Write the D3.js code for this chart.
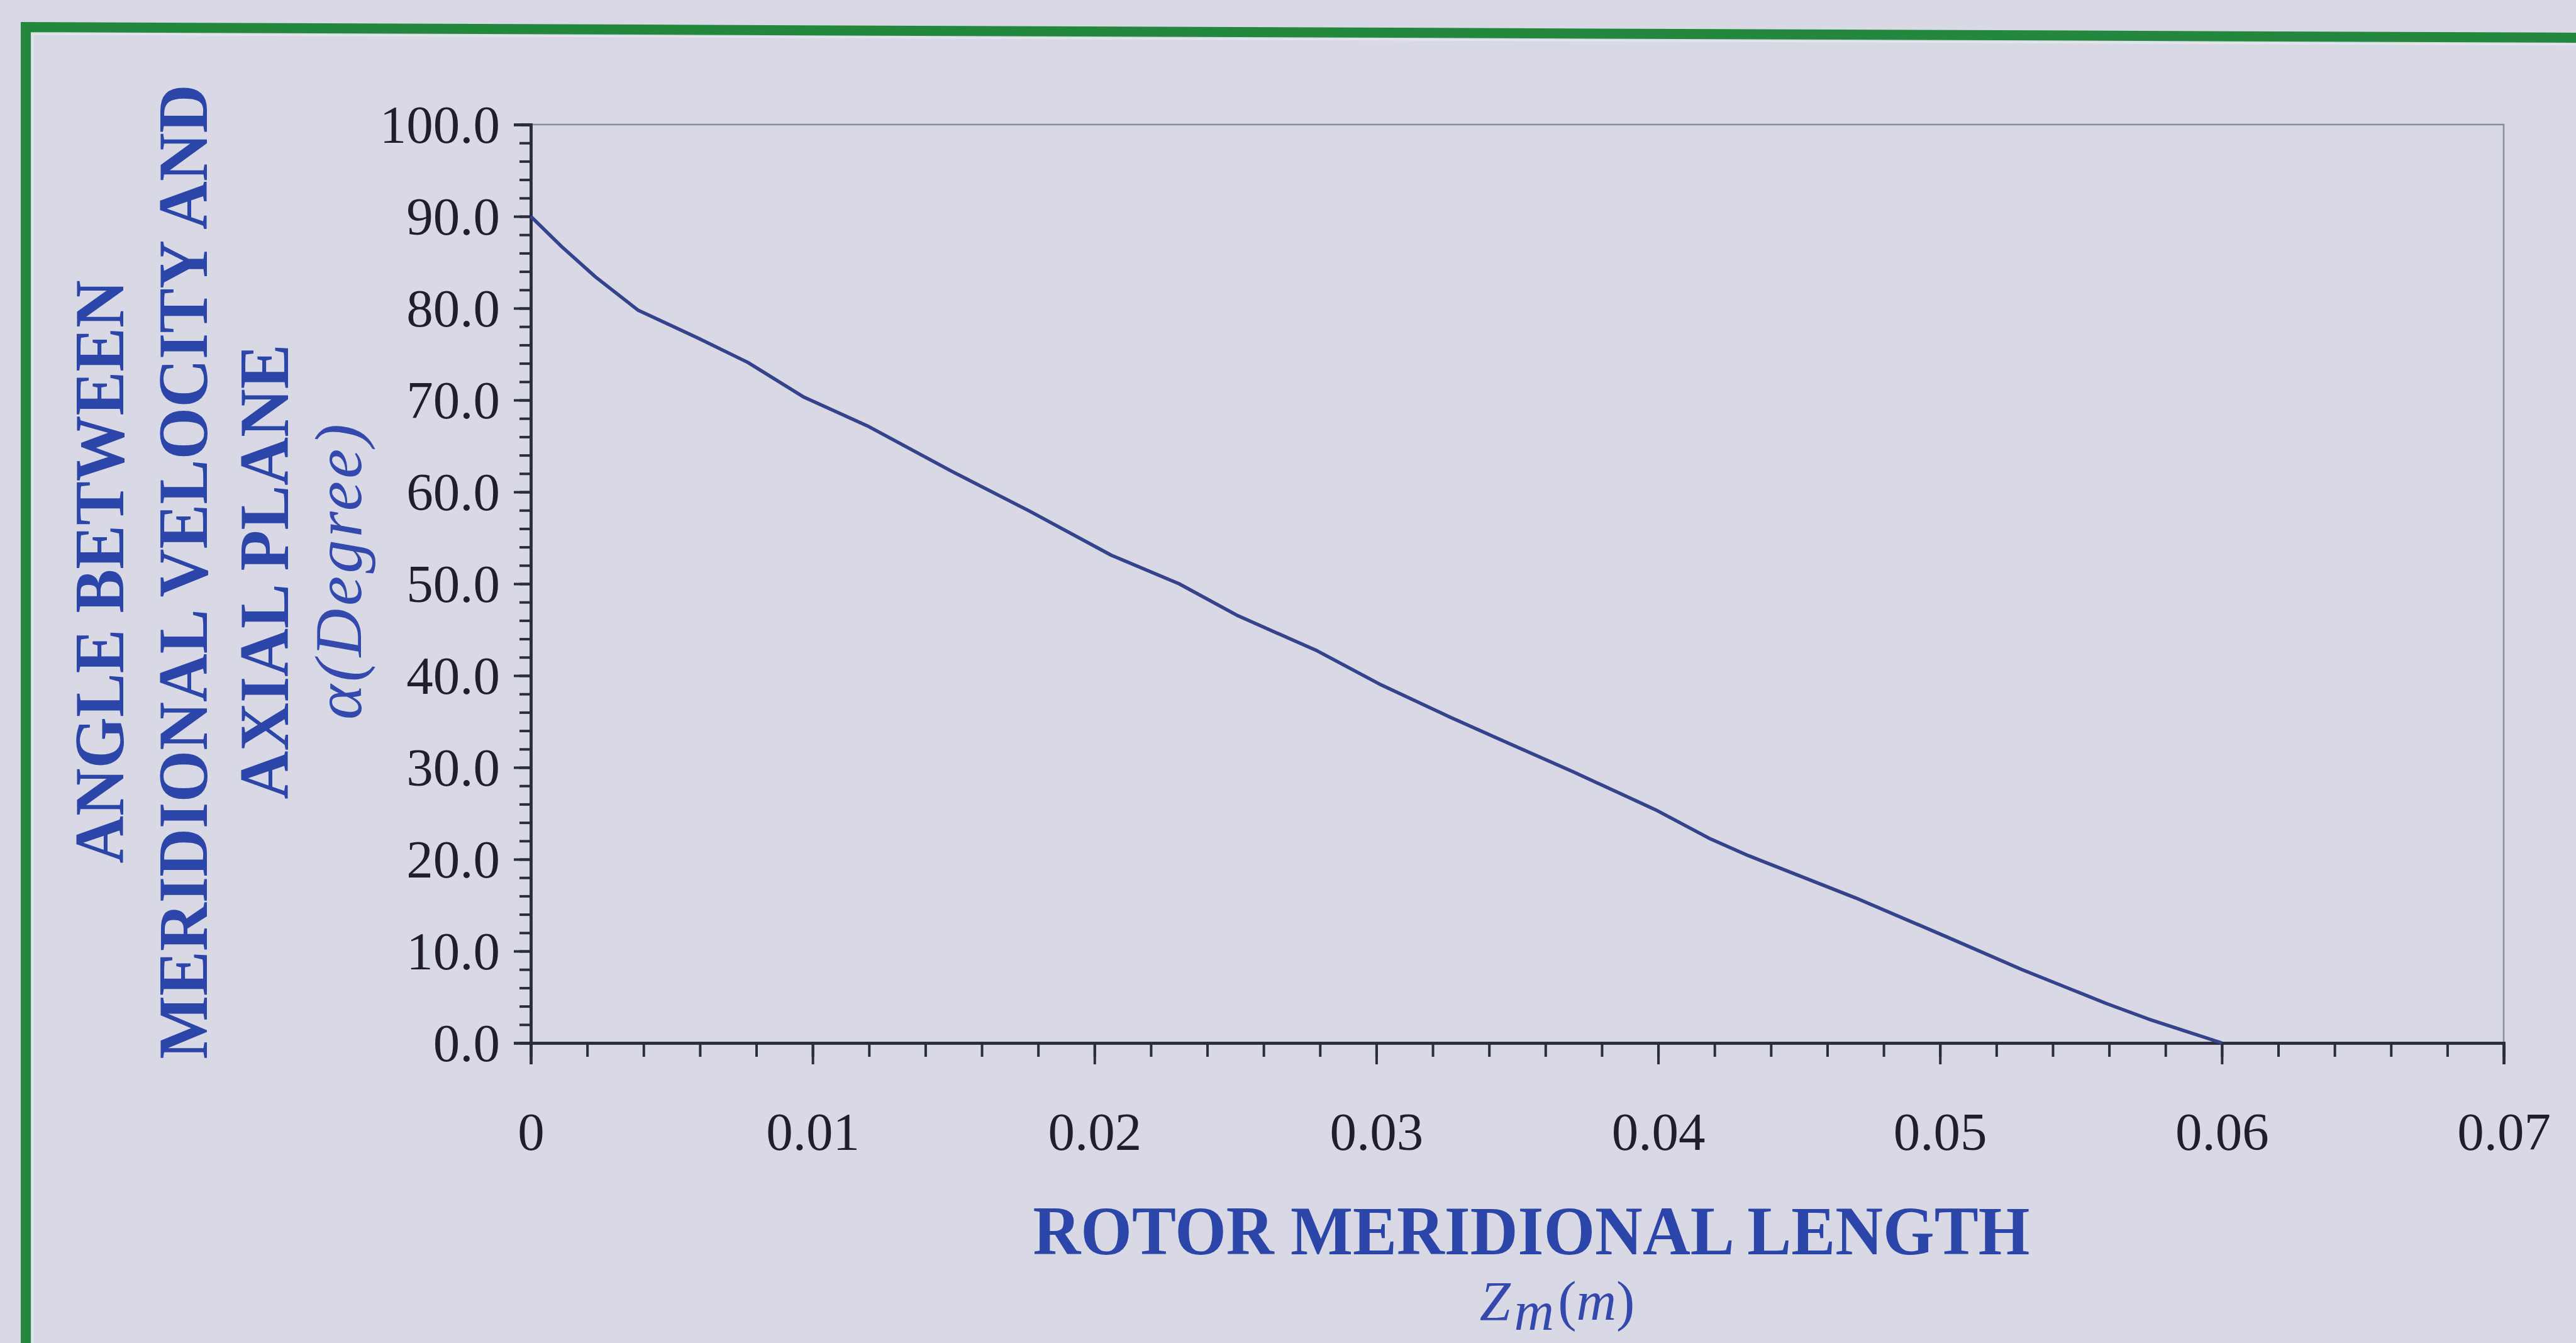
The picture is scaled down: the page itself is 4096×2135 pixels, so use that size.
<!DOCTYPE html>
<html>
<head>
<meta charset="utf-8">
<script src="https://cdn.jsdelivr.net/npm/d3@7/dist/d3.min.js"></script>
<style>
  html, body { margin: 0; padding: 0; background: #d8d9e4; }
  svg { display: block; }
</style>
</head>
<body>
<script>
// Meridional length along the rotor (m) and flow angle alpha (degrees)
const zm = [0, 0.0011, 0.0023, 0.0038, 0.0059, 0.0077, 0.0097, 0.0120, 0.0149, 0.0177,
            0.0206, 0.0230, 0.0251, 0.0279, 0.0301, 0.0326, 0.0345, 0.0370, 0.0399, 0.0418,
            0.0432, 0.0470, 0.0502, 0.0529, 0.0559, 0.0574, 0.0586, 0.0600];
const alpha = [90.0, 86.7, 83.4, 79.8, 76.8, 74.1, 70.3, 67.1, 62.3, 57.9,
               53.1, 50.0, 46.5, 42.7, 39.1, 35.5, 32.9, 29.5, 25.4, 22.3,
               20.4, 15.8, 11.6, 8.0, 4.3, 2.6, 1.4, 0.0];

const yMajorTicks = [0, 10, 20, 30, 40, 50, 60, 70, 80, 90, 100];
const yMinorTicks = d3.range(0, 100.001, 2);
const xMajorTicks = [0, 0.01, 0.02, 0.03, 0.04, 0.05, 0.06, 0.07];
const xMinorTicks = d3.range(0, 0.07001, 0.002);

const yTitleLines = ["ANGLE BETWEEN", "MERIDIONAL VELOCITY AND", "AXIAL PLANE"];
const yUnitLabel = "\u03B1(Degree)";
const xTitle = "ROTOR MERIDIONAL LENGTH";

const W = 4096, H = 2135;
const SERIF = "'Liberation Serif', 'Times New Roman', Times, serif";
const BLUE = "#2b45a8";
const INK = "#1e1f2a";

const svg = d3.select("body").append("svg")
  .attr("width", W).attr("height", H)
  .attr("viewBox", `0 0 ${W} ${H}`);

svg.append("rect").attr("width", W).attr("height", H).attr("fill", "#d8d9e4");

// green frame around the figure
svg.append("path")
  .attr("d", `M41,${H + 20} L41,43 L${W + 20},60`)
  .attr("fill", "none")
  .attr("stroke", "#23883d")
  .attr("stroke-width", 16);
svg.append("path")
  .attr("d", `M52,${H + 20} L52,54 L${W + 20},71`)
  .attr("fill", "none")
  .attr("stroke", "#e6eef0")
  .attr("stroke-width", 3)
  .attr("opacity", 0.6);

const plot = { left: 844, right: 3981, top: 198, bottom: 1658 };

const x = d3.scaleLinear().domain([0, 0.07]).range([plot.left, plot.right]);
const y = d3.scaleLinear().domain([0, 100]).range([plot.bottom, plot.top]);

// top and right frame lines of the plot
svg.append("path")
  .attr("d", `M${plot.left},${plot.top} L${plot.right},${plot.top} L${plot.right},${plot.bottom}`)
  .attr("fill", "none")
  .attr("stroke", "#8b8c9a")
  .attr("stroke-width", 2.5);

// y axis: minor ticks then major ticks with labels
const yMinor = svg.append("g")
  .attr("transform", `translate(${plot.left},0)`)
  .call(d3.axisLeft(y).tickValues(yMinorTicks).tickSize(18).tickFormat(""));
const yMajor = svg.append("g")
  .attr("transform", `translate(${plot.left},0)`)
  .call(d3.axisLeft(y).tickValues(yMajorTicks).tickSize(27).tickPadding(22)
        .tickFormat(d3.format(".1f")));

// x axis: minor ticks then major ticks with labels
const xMinor = svg.append("g")
  .attr("transform", `translate(0,${plot.bottom})`)
  .call(d3.axisBottom(x).tickValues(xMinorTicks).tickSize(22).tickFormat(""));
const xMajor = svg.append("g")
  .attr("transform", `translate(0,${plot.bottom})`)
  .call(d3.axisBottom(x).tickValues(xMajorTicks).tickSize(34)
        .tickFormat(d => d === 0 ? "0" : d3.format(".2f")(d)));

[yMinor, yMajor, xMinor, xMajor].forEach(g => {
  g.select(".domain").attr("stroke", "#2c2d3a").attr("stroke-width", 4.5);
  g.selectAll(".tick line").attr("stroke", "#2c2d3a").attr("stroke-width", 4);
  g.selectAll("text")
    .attr("fill", INK)
    .style("font-family", SERIF)
    .style("font-size", "85px");
});
yMajor.selectAll(".tick text").attr("dy", "0.34em");
xMajor.selectAll(".tick text").attr("y", 170).attr("dy", null);

// data curve
const line = d3.line()
  .x((d, i) => x(zm[i]))
  .y(d => y(d));
svg.append("path")
  .datum(alpha)
  .attr("d", line)
  .attr("fill", "none")
  .attr("stroke", "#34438c")
  .attr("stroke-width", 5.5)
  .attr("stroke-linejoin", "round");

// y axis title (rotated)
const yTitleCenter = 909;
const yTitleX = [196, 329, 458];
const yTitleLen = [927, 1549, 723];
yTitleLines.forEach((t, i) => {
  svg.append("text")
    .attr("transform", `translate(${yTitleX[i]},${yTitleCenter}) rotate(-90)`)
    .attr("text-anchor", "middle")
    .attr("textLength", yTitleLen[i])
    .attr("lengthAdjust", "spacingAndGlyphs")
    .attr("fill", BLUE)
    .style("font-family", SERIF)
    .style("font-weight", "bold")
    .style("font-size", "112px")
    .text(t);
});
svg.append("text")
  .attr("transform", `translate(574,${yTitleCenter}) rotate(-90)`)
  .attr("text-anchor", "middle")
  .attr("textLength", 470)
  .attr("lengthAdjust", "spacing")
  .attr("fill", "#3449ad")
  .style("font-family", SERIF)
  .style("font-style", "italic")
  .style("font-size", "106px")
  .text(yUnitLabel);

// x axis title
svg.append("text")
  .attr("x", 2435).attr("y", 1994)
  .attr("text-anchor", "middle")
  .attr("textLength", 1585)
  .attr("lengthAdjust", "spacingAndGlyphs")
  .attr("fill", BLUE)
  .style("font-family", SERIF)
  .style("font-weight", "bold")
  .style("font-size", "110px")
  .text(xTitle);

// Z_m (m): symbol with lowered subscript, then the unit in parentheses,
// laid out left to right from measured widths and centred under the title
const zFont = 88, zBase = 2098, zSub = 16, zGap = 6, zCenter = 2476;
const zParts = [
  { t: "Z", dy: 0, kind: "italic" },
  { t: "m", dy: zSub, kind: "italic" },
  { t: "(m)", dy: 0, kind: "unit" }
];
const zEls = zParts.map(p => {
  const el = svg.append("text")
    .attr("y", zBase + p.dy)
    .attr("fill", "#3449ad")
    .style("font-family", SERIF)
    .style("font-size", zFont + "px");
  if (p.kind === "italic") el.style("font-style", "italic").text(p.t);
  else {
    el.append("tspan").text("(");
    el.append("tspan").style("font-style", "italic").text("m");
    el.append("tspan").text(")");
  }
  return el;
});
const zWidths = zEls.map(el => el.node().getComputedTextLength());
const zTotal = d3.sum(zWidths) + zGap * (zEls.length - 1);
let zx = zCenter - zTotal / 2;
zEls.forEach((el, i) => {
  el.attr("x", zx);
  zx += zWidths[i] + zGap;
});
</script>
</body>
</html>
